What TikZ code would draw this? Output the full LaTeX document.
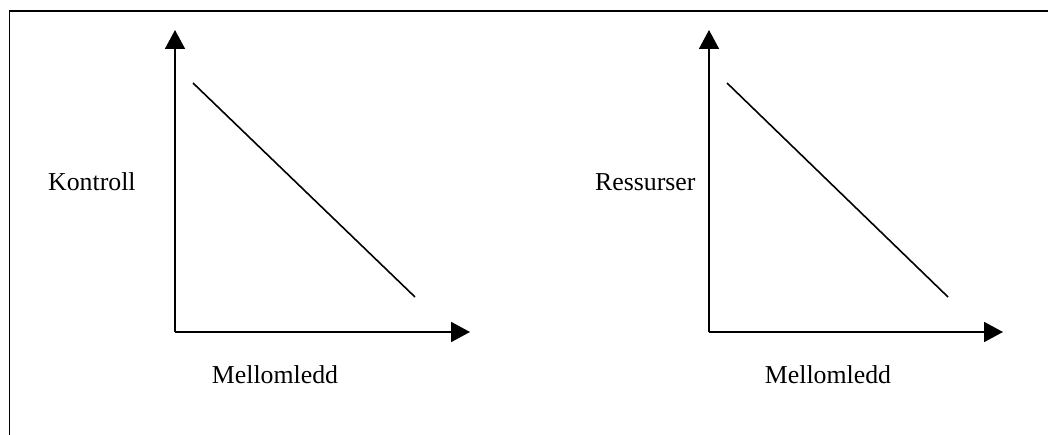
\documentclass[tikz,border=0pt]{standalone}
\usepackage{fontspec}
\setmainfont{Liberation Serif}
\usetikzlibrary{arrows.meta}
\tikzset{
  axis/.style={line width=1.8pt, -{Triangle[length=19pt,width=20pt]}},
  trend/.style={line width=1.6pt},
  frame/.style={line width=1.8pt},
  lbl/.style={font=\fontsize{25.8}{30}\selectfont, inner sep=0pt}
}
\begin{document}
\begin{tikzpicture}[x=1pt,y=-1pt]
\useasboundingbox (0,0) rectangle (1048,435);
% open frame: left and top edges
\coordinate (fb) at (9.5,440);
\coordinate (fc) at (9.5,11);
\coordinate (fr) at (1052,11);
\draw[frame] (fb) -- (fc) -- (fr);

% left chart
\coordinate (o1) at (175,332);
\coordinate (y1) at (175,30);
\coordinate (x1) at (470,332);
\coordinate (a1) at (193,83);
\coordinate (b1) at (415,297);
\draw[axis] (o1) -- (y1);
\draw[axis] (o1) -- (x1);
\draw[trend] (a1) -- (b1);
\node[lbl, anchor=base west] (k1) at (48,191) {Kontroll};
\node[lbl, anchor=base] (m1) at (275,383) {Mellomledd};

% right chart
\coordinate (o2) at (709,332);
\coordinate (y2) at (709,30);
\coordinate (x2) at (1003,332);
\coordinate (a2) at (727,83);
\coordinate (b2) at (948,297);
\draw[axis] (o2) -- (y2);
\draw[axis] (o2) -- (x2);
\draw[trend] (a2) -- (b2);
\node[lbl, anchor=base west] (k2) at (595,191) {Ressurser};
\node[lbl, anchor=base] (m2) at (828,383) {Mellomledd};
\end{tikzpicture}
\end{document}
